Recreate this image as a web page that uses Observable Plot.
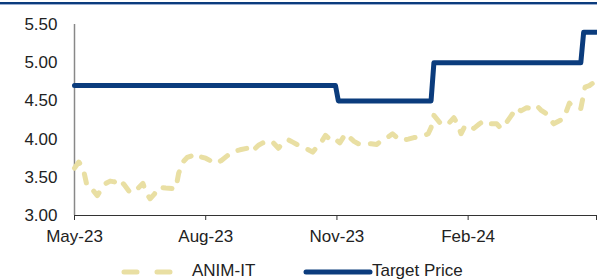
<!DOCTYPE html>
<html>
<head>
<meta charset="utf-8">
<script src="https://cdn.jsdelivr.net/npm/d3@7"></script>
<script src="https://cdn.jsdelivr.net/npm/@observablehq/plot@0.6"></script>
<style>
  body { margin: 0; background: #fff; font-family: "Liberation Sans", Arial, sans-serif; }
  #wrap { position: relative; width: 597px; height: 280px; overflow: hidden; }
  #topline { position: absolute; left: 0; top: 2px; width: 597px; height: 2px; background: #0b3c7d; border-bottom: 1px solid #9aaed0; }
  #legend { position: absolute; left: 0; top: 260px; width: 597px; height: 20px; font-size: 17px; color: #222; }
  #legend svg { position: absolute; top: 0; }
  #legend span { position: absolute; top: 1px; line-height: 19px; }
</style>
</head>
<body>
<div id="wrap">
  <div id="chart"></div>
  <div id="topline"></div>
  <div id="legend"></div>
</div>
<script>
const priceDates = ["2023-05-01","2023-05-04","2023-05-07","2023-05-10","2023-05-14","2023-05-17","2023-05-20","2023-05-23","2023-05-26","2023-05-29",
"2023-06-01","2023-06-05","2023-06-09","2023-06-13","2023-06-18","2023-06-20","2023-06-23","2023-06-26","2023-06-29","2023-07-04",
"2023-07-11","2023-07-13","2023-07-16","2023-07-19","2023-07-22","2023-07-25","2023-07-28","2023-08-01","2023-08-04","2023-08-08",
"2023-08-12","2023-08-16","2023-08-19","2023-08-25","2023-08-30","2023-09-02","2023-09-07","2023-09-10","2023-09-14","2023-09-17",
"2023-09-21","2023-09-24","2023-09-28","2023-10-01","2023-10-05","2023-10-10","2023-10-15","2023-10-19","2023-10-21","2023-10-24",
"2023-10-28","2023-10-31","2023-11-03","2023-11-07","2023-11-10","2023-11-13","2023-11-16","2023-11-20","2023-11-25","2023-11-29",
"2023-12-02","2023-12-07","2023-12-10","2023-12-13","2023-12-16","2023-12-21","2023-12-25","2023-12-30","2024-01-04","2024-01-06",
"2024-01-08","2024-01-12","2024-01-15","2024-01-19","2024-01-22","2024-01-25","2024-01-27","2024-01-30","2024-02-02","2024-02-05",
"2024-02-09","2024-02-12","2024-02-17","2024-02-21","2024-02-24","2024-02-28","2024-03-02","2024-03-06","2024-03-09","2024-03-13",
"2024-03-16","2024-03-20","2024-03-23","2024-03-27","2024-03-30","2024-04-01","2024-04-05","2024-04-08","2024-04-12","2024-04-15",
"2024-04-20","2024-04-23","2024-04-26","2024-04-29"];
const priceValues = [3.62,3.70,3.62,3.37,3.33,3.26,3.35,3.42,3.45,3.44,
3.48,3.40,3.30,3.33,3.42,3.30,3.22,3.28,3.37,3.36,
3.35,3.55,3.70,3.76,3.78,3.74,3.77,3.75,3.72,3.68,
3.72,3.78,3.83,3.86,3.88,3.83,3.92,3.95,3.98,3.96,
3.88,3.95,3.99,3.96,3.92,3.88,3.83,3.92,3.96,4.05,
3.98,4.00,3.95,4.07,4.02,3.97,3.94,3.93,3.94,3.93,
3.98,4.03,4.07,4.02,3.98,4.00,4.02,4.03,4.07,4.15,
4.31,4.22,4.18,4.22,4.28,4.18,4.07,4.18,4.17,4.14,
4.20,4.24,4.20,4.20,4.14,4.22,4.30,4.41,4.37,4.41,
4.40,4.44,4.38,4.33,4.25,4.20,4.24,4.27,4.47,4.42,
4.40,4.68,4.70,4.74];

const targetDates = ["2023-05-01","2023-10-31","2023-11-02","2024-01-06","2024-01-08","2024-04-20","2024-04-22","2024-05-01"];
const targetValues = [4.70,4.70,4.50,4.50,5.00,5.00,5.40,5.40];

const xTickDates = ["2023-05-01","2023-08-01","2023-11-01","2024-02-01","2024-05-01"];
const xTickLabels = ["May-23","Aug-23","Nov-23","Feb-24",""];
const yTicks = [3.0,3.5,4.0,4.5,5.0,5.5];
const seriesNames = ["ANIM-IT","Target Price"];

const priceColor = "#e9dfa3";
const targetColor = "#0b3c7d";

const price = priceDates.map((d,i) => ({date: new Date(d), value: priceValues[i]}));
const target = targetDates.map((d,i) => ({date: new Date(d), value: targetValues[i]}));
const xTicks = xTickDates.map(d => new Date(d));
const labelOf = new Map(xTicks.map((d,i) => [+d, xTickLabels[i]]));

const chart = Plot.plot({
  width: 597,
  height: 250,
  marginLeft: 74,
  marginRight: 1,
  marginTop: 24,
  marginBottom: 35,
  style: {fontFamily: "'Liberation Sans', Arial, sans-serif", fontSize: "17px", color: "#222", background: "transparent"},
  x: {type: "utc", domain: [new Date("2023-05-01"), new Date("2024-05-01")]},
  y: {domain: [3, 5.5]},
  marks: [
    Plot.axisY({ticks: yTicks, tickSize: 0, tickPadding: 17, tickFormat: d3.format(".2f"), label: null, fontSize: 17}),
    Plot.ruleX([new Date("2023-05-01")], {y1: 3, y2: 5.5, stroke: "#888", strokeWidth: 1.5}),
    Plot.line(price, {x: "date", y: "value", stroke: priceColor, strokeWidth: 5, strokeDasharray: "9,12", strokeLinecap: "round", strokeLinejoin: "round"}),
    Plot.line(target, {x: "date", y: "value", stroke: targetColor, strokeWidth: 5, strokeLinecap: "round", strokeLinejoin: "round"}),
    Plot.ruleY([3], {stroke: "#333", strokeWidth: 1.2}),
    Plot.axisX({ticks: xTicks, tickSize: 5, tickPadding: 9, tickFormat: d => labelOf.get(+d) ?? "", label: null, stroke: "#333", fontSize: 17})
  ]
});
document.getElementById("chart").appendChild(chart);

const legend = document.getElementById("legend");
legend.innerHTML = `
  <svg width="70" height="20" style="left:118px"><line x1="6" x2="58" y1="12" y2="12" stroke="${priceColor}" stroke-width="5" stroke-linecap="round" stroke-dasharray="13,20"/></svg>
  <span style="left:192px">${seriesNames[0]}</span>
  <svg width="72" height="20" style="left:302px"><line x1="4" x2="68" y1="12" y2="12" stroke="${targetColor}" stroke-width="5" stroke-linecap="round"/></svg>
  <span style="left:372px">${seriesNames[1]}</span>
`;
</script>
</body>
</html>
